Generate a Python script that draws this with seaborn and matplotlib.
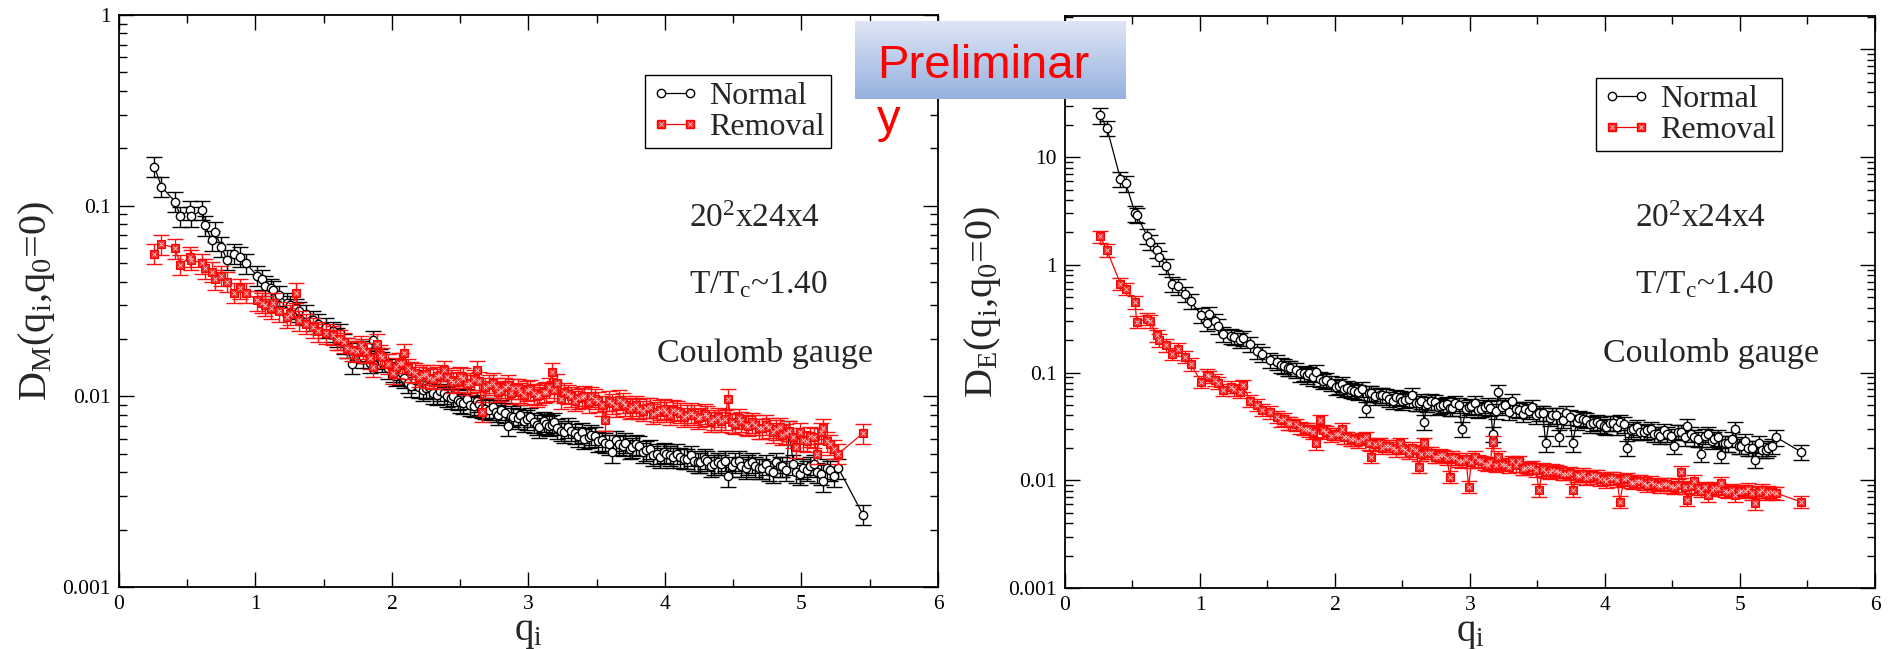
import numpy as np
import seaborn as sns
import matplotlib.pyplot as plt
from matplotlib.lines import Line2D
from matplotlib.legend_handler import HandlerTuple
from matplotlib.ticker import LogLocator, MultipleLocator, NullFormatter

# lattice momenta, first set
q_a = [0.26, 0.31, 0.41, 0.45, 0.52, 0.53, 0.61, 0.63, 0.68, 0.70,
       0.75, 0.79, 0.84, 0.89, 0.93, 1.01, 1.05, 1.07, 1.11, 1.13,
       1.17, 1.23, 1.25, 1.30, 1.32, 1.37, 1.42, 1.46, 1.52, 1.57,
       1.62, 1.67, 1.71, 1.77, 1.81, 1.86, 1.89, 1.93, 2.01, 2.05,
       2.09, 2.14, 2.20, 2.23, 2.27, 2.33, 2.38, 2.43, 2.48, 2.52,
       2.57, 2.62, 2.66, 2.71, 2.76, 2.80, 2.85, 2.89, 2.94, 2.99,
       3.04, 3.08, 3.13, 3.17, 3.21, 3.26, 3.31, 3.36, 3.41, 3.46,
       3.51, 3.56, 3.61, 3.66, 3.71, 3.76, 3.81, 3.86, 3.91, 3.96,
       4.01, 4.06, 4.11, 4.16, 4.21, 4.26, 4.31, 4.36, 4.41, 4.46,
       4.51, 4.56, 4.61, 4.66, 4.71, 4.76, 4.81, 4.86, 4.91, 4.96,
       5.01, 5.06, 5.11, 5.16, 5.21, 5.27, 5.45]

# second set of momenta (the dense region)
q_b = [1.60, 1.65, 1.74, 1.79, 1.84, 1.91, 1.97, 2.03, 2.07, 2.12,
       2.17, 2.25, 2.30, 2.35, 2.40, 2.45, 2.50, 2.55, 2.60, 2.64,
       2.68, 2.74, 2.78, 2.83, 2.87, 2.92, 2.97, 3.01, 3.06, 3.11,
       3.15, 3.19, 3.24, 3.29, 3.34, 3.39, 3.44, 3.49, 3.54, 3.59,
       3.64, 3.69, 3.74, 3.79, 3.84, 3.89, 3.94, 3.99, 4.04, 4.09,
       4.14, 4.19, 4.24, 4.29, 4.34, 4.39, 4.44, 4.49, 4.54, 4.59,
       4.64, 4.69, 4.74, 4.79, 4.84, 4.89, 4.94, 4.99, 5.04, 5.09,
       5.14, 5.19, 5.24]

# D_M, left panel
dm_normal_a = [0.160, 0.126, 0.105, 0.088, 0.095, 0.088, 0.095, 0.079, 0.066, 0.073,
               0.061, 0.052, 0.056, 0.054, 0.050, 0.043, 0.041, 0.038, 0.037, 0.036,
               0.034, 0.031, 0.030, 0.029, 0.028, 0.027, 0.025, 0.024, 0.023, 0.022,
               0.0215, 0.018, 0.0148, 0.0175, 0.017, 0.0197, 0.016, 0.0152, 0.0135, 0.013,
               0.0125, 0.0113, 0.0112, 0.0108, 0.0112, 0.0102, 0.0104, 0.0098, 0.0096, 0.0092,
               0.0090, 0.0094, 0.0087, 0.0085, 0.0083, 0.0085, 0.0070, 0.0078, 0.0080, 0.0076,
               0.0073, 0.0069, 0.0072, 0.0071, 0.0068, 0.0065, 0.0066, 0.0062, 0.0060, 0.0063,
               0.0058, 0.0057, 0.0051, 0.0056, 0.0057, 0.0054, 0.0055, 0.0052, 0.0049, 0.0048,
               0.0050, 0.0048, 0.0048, 0.0047, 0.0046, 0.0045, 0.0046, 0.0044, 0.0044, 0.0038,
               0.0045, 0.0043, 0.0044, 0.0043, 0.0042, 0.0041, 0.0045, 0.0043, 0.0066, 0.0040,
               0.0042, 0.0043, 0.0040, 0.0036, 0.0041, 0.0042, 0.0024]
dm_normal_b = [0.0205, 0.0190, 0.0170, 0.0160, 0.0150, 0.0158, 0.0140, 0.0128, 0.0132, 0.0118,
               0.0122, 0.0110, 0.0104, 0.0107, 0.0100, 0.0101, 0.0093, 0.0097, 0.0089, 0.0091,
               0.0086, 0.0088, 0.0080, 0.0082, 0.0079, 0.0077, 0.0074, 0.0078, 0.0071, 0.0074,
               0.0070, 0.0073, 0.0066, 0.0069, 0.0064, 0.0065, 0.0061, 0.0062, 0.0059, 0.0056,
               0.0059, 0.0055, 0.0053, 0.0056, 0.0051, 0.0053, 0.0050, 0.0051, 0.0049, 0.0050,
               0.0047, 0.0049, 0.0045, 0.0047, 0.0043, 0.0045, 0.0046, 0.0043, 0.0046, 0.0042,
               0.0045, 0.0042, 0.0044, 0.0040, 0.0043, 0.0041, 0.0044, 0.0039, 0.0041, 0.0044,
               0.0039, 0.0042, 0.0038]
dm_removal_a = [0.056, 0.063, 0.060, 0.049, 0.054, 0.052, 0.050, 0.047, 0.045, 0.041,
                0.043, 0.040, 0.035, 0.037, 0.035, 0.032, 0.031, 0.030, 0.029, 0.031,
                0.028, 0.026, 0.027, 0.035, 0.025, 0.024, 0.023, 0.022, 0.0214, 0.021,
                0.020, 0.018, 0.0175, 0.0185, 0.017, 0.0143, 0.0189, 0.016, 0.0132, 0.015,
                0.0168, 0.0135, 0.0127, 0.013, 0.0125, 0.0128, 0.0137, 0.0122, 0.012, 0.0125,
                0.0118, 0.0137, 0.0083, 0.0115, 0.0112, 0.0108, 0.0115, 0.011, 0.0105, 0.0108,
                0.0104, 0.0102, 0.0106, 0.0134, 0.0117, 0.0105, 0.0100, 0.0098, 0.0101, 0.0100,
                0.0094, 0.0075, 0.0092, 0.0096, 0.0090, 0.0088, 0.0086, 0.0087, 0.0081, 0.0085,
                0.0083, 0.0085, 0.0082, 0.0080, 0.0080, 0.0078, 0.0079, 0.0076, 0.0074, 0.0097,
                0.0072, 0.0074, 0.0070, 0.0071, 0.0068, 0.0069, 0.0067, 0.0063, 0.0066, 0.0054,
                0.0059, 0.0062, 0.0050, 0.0068, 0.0056, 0.0050, 0.0064]
dm_removal_b = [0.0200, 0.0192, 0.0172, 0.0178, 0.0158, 0.0165, 0.0148, 0.0142, 0.0150, 0.0140,
                0.0133, 0.0131, 0.0124, 0.0130, 0.0126, 0.0119, 0.0128, 0.0116, 0.0123, 0.0120,
                0.0112, 0.0118, 0.0106, 0.0112, 0.0104, 0.0110, 0.0102, 0.0109, 0.0100, 0.0105,
                0.0112, 0.0108, 0.0097, 0.0103, 0.0095, 0.0099, 0.0093, 0.0097, 0.0090, 0.0095,
                0.0089, 0.0093, 0.0086, 0.0090, 0.0084, 0.0088, 0.0083, 0.0086, 0.0080, 0.0084,
                0.0078, 0.0082, 0.0077, 0.0081, 0.0074, 0.0078, 0.0076, 0.0073, 0.0077, 0.0071,
                0.0073, 0.0068, 0.0071, 0.0065, 0.0069, 0.0064, 0.0061, 0.0065, 0.0058, 0.0061,
                0.0065, 0.0058, 0.0053]

# D_E, right panel
de_normal_a = [24.4, 18.8, 6.3, 5.7, 3.0, 2.9, 1.84, 1.62, 1.37, 1.17,
               0.98, 0.67, 0.63, 0.54, 0.46, 0.34, 0.29, 0.35, 0.30, 0.27,
               0.23, 0.22, 0.215, 0.20, 0.21, 0.186, 0.16, 0.15, 0.13, 0.125,
               0.115, 0.11, 0.105, 0.10, 0.098, 0.101, 0.088, 0.085, 0.074, 0.078,
               0.072, 0.068, 0.071, 0.046, 0.065, 0.062, 0.060, 0.055, 0.058, 0.056,
               0.062, 0.052, 0.035, 0.054, 0.048, 0.050, 0.047, 0.052, 0.030, 0.048,
               0.052, 0.046, 0.050, 0.027, 0.066, 0.050, 0.055, 0.045, 0.046, 0.048,
               0.042, 0.022, 0.040, 0.025, 0.042, 0.022, 0.038, 0.036, 0.034, 0.033,
               0.031, 0.034, 0.035, 0.020, 0.030, 0.028, 0.029, 0.027, 0.026, 0.027,
               0.021, 0.028, 0.032, 0.025, 0.0177, 0.027, 0.024, 0.0172, 0.022, 0.030,
               0.021, 0.020, 0.0154, 0.019, 0.020, 0.025, 0.0184]
de_normal_b = [0.118, 0.110, 0.098, 0.094, 0.090, 0.084, 0.080, 0.075, 0.070, 0.069,
               0.066, 0.064, 0.060, 0.062, 0.057, 0.059, 0.054, 0.057, 0.052, 0.055,
               0.051, 0.053, 0.049, 0.051, 0.047, 0.050, 0.046, 0.049, 0.045, 0.048,
               0.047, 0.044, 0.048, 0.043, 0.046, 0.041, 0.044, 0.040, 0.042, 0.038,
               0.040, 0.036, 0.039, 0.035, 0.037, 0.033, 0.035, 0.032, 0.034, 0.031,
               0.033, 0.029, 0.031, 0.028, 0.030, 0.027, 0.029, 0.026, 0.028, 0.025,
               0.027, 0.024, 0.026, 0.023, 0.025, 0.022, 0.024, 0.021, 0.023, 0.020,
               0.022, 0.019, 0.021]
de_removal_a = [1.84, 1.37, 0.67, 0.60, 0.45, 0.295, 0.315, 0.30, 0.222, 0.20,
                0.18, 0.15, 0.165, 0.14, 0.12, 0.082, 0.095, 0.092, 0.086, 0.080,
                0.069, 0.074, 0.070, 0.066, 0.076, 0.055, 0.050, 0.045, 0.043, 0.039,
                0.037, 0.034, 0.033, 0.030, 0.029, 0.022, 0.036, 0.028, 0.027, 0.030,
                0.025, 0.024, 0.0244, 0.025, 0.0165, 0.022, 0.021, 0.020, 0.022, 0.019,
                0.020, 0.0133, 0.022, 0.018, 0.0165, 0.017, 0.0108, 0.016, 0.015, 0.0087,
                0.0165, 0.015, 0.014, 0.0228, 0.0165, 0.014, 0.015, 0.015, 0.013, 0.0133,
                0.0081, 0.012, 0.0125, 0.012, 0.0115, 0.0081, 0.011, 0.0105, 0.0111, 0.0102,
                0.0098, 0.0105, 0.0063, 0.0104, 0.0095, 0.0098, 0.0090, 0.0093, 0.0088, 0.0092,
                0.0086, 0.012, 0.0066, 0.0098, 0.0080, 0.0073, 0.0085, 0.0094, 0.0078, 0.0073,
                0.0080, 0.0083, 0.0061, 0.0082, 0.0078, 0.0076, 0.0063]
de_removal_b = [0.036, 0.034, 0.031, 0.030, 0.028, 0.029, 0.026, 0.027, 0.025, 0.024,
                0.023, 0.022, 0.0215, 0.020, 0.021, 0.019, 0.020, 0.018, 0.019, 0.0175,
                0.018, 0.0165, 0.0172, 0.016, 0.0165, 0.0152, 0.0158, 0.0148, 0.0153, 0.0142,
                0.0147, 0.0138, 0.0143, 0.0133, 0.0138, 0.0128, 0.0132, 0.0124, 0.0127, 0.0119,
                0.0122, 0.0115, 0.0118, 0.0111, 0.0114, 0.0107, 0.0110, 0.0103, 0.0106, 0.0100,
                0.0102, 0.0097, 0.0099, 0.0094, 0.0096, 0.0091, 0.0093, 0.0088, 0.0090, 0.0086,
                0.0088, 0.0084, 0.0086, 0.0082, 0.0084, 0.0080, 0.0082, 0.0078, 0.0080, 0.0076,
                0.0078, 0.0075, 0.0077]

# relative statistical errors
rel_err = {"dm_normal": 0.12, "dm_removal": 0.12, "de_normal": 0.16, "de_removal": 0.13}

series_labels = ["Normal", "Removal"]
xticks = [0, 1, 2, 3, 4, 5, 6]
yticks_m = [0.001, 0.01, 0.1, 1]
yticklabels_m = ["0.001", "0.01", "0.1", "1"]
yticks_e = [0.001, 0.01, 0.1, 1, 10, 100]
yticklabels_e = ["0.001", "0.01", "0.1", "1", "10", ""]  # 100 sits under the banner

sns.set_theme(style="ticks")
plt.rcParams["font.family"] = "serif"
plt.rcParams["font.serif"] = ["Liberation Serif", "DejaVu Serif"]
plt.rcParams["mathtext.fontset"] = "custom"
plt.rcParams["mathtext.rm"] = "Liberation Serif"
plt.rcParams["mathtext.it"] = "Liberation Serif"
plt.rcParams["mathtext.bf"] = "Liberation Serif:bold"

W, H = 1890, 649
fig = plt.figure(figsize=(W / 100, H / 100), dpi=100)
ax1 = fig.add_axes([119 / W, 1 - 587 / H, 819 / W, 572 / H])
ax2 = fig.add_axes([1065 / W, 1 - 588 / H, 810 / W, 572 / H])


def merge(qa, ya, qb, yb):
    x = np.array(qa + qb)
    y = np.array(ya + yb)
    order = np.argsort(x, kind="stable")
    return x[order], y[order]


def draw(ax, normal, removal, en, er):
    xn, yn = normal
    xr, yr = removal
    ax.errorbar(xn, yn, yerr=en * yn, fmt="none", ecolor="black", elinewidth=1.0,
                capsize=6, capthick=1.0, zorder=2)
    sns.lineplot(x=xn, y=yn, ax=ax, color="black", lw=0.9, marker="o", markersize=6,
                 markerfacecolor="white", markeredgecolor="black", markeredgewidth=1.0,
                 estimator=None, sort=False, zorder=3)
    ax.errorbar(xr, yr, yerr=er * yr, fmt="none", ecolor="#ff1010", elinewidth=1.0,
                capsize=6, capthick=1.0, zorder=4)
    sns.lineplot(x=xr, y=yr, ax=ax, color="#ff0000", lw=0.9, marker="s", markersize=5.5,
                 markerfacecolor="#f02828", markeredgecolor="#ff0000", markeredgewidth=0.8,
                 estimator=None, sort=False, zorder=5)
    ax.plot(xr, yr, ls="none", marker="x", markersize=3, markeredgecolor="#ffd0d0",
            markeredgewidth=0.6, zorder=6)


draw(ax1, merge(q_a, dm_normal_a, q_b, dm_normal_b), merge(q_a, dm_removal_a, q_b, dm_removal_b),
     rel_err["dm_normal"], rel_err["dm_removal"])
draw(ax2, merge(q_a, de_normal_a, q_b, de_normal_b), merge(q_a, de_removal_a, q_b, de_removal_b),
     rel_err["de_normal"], rel_err["de_removal"])

for ax, yt, ytl, ylim in [(ax1, yticks_m, yticklabels_m, (0.001, 1)),
                          (ax2, yticks_e, yticklabels_e, (0.001, 204))]:
    ax.set_yscale("log")
    ax.set_xlim(0, 6)
    ax.set_ylim(*ylim)
    ax.set_xticks(xticks)
    ax.set_xticklabels([str(t) for t in xticks])
    ax.xaxis.set_minor_locator(MultipleLocator(0.5))
    ax.set_yticks(yt)
    ax.set_yticklabels(ytl)
    ax.yaxis.set_minor_locator(LogLocator(base=10, subs=np.arange(2, 10)))
    ax.yaxis.set_minor_formatter(NullFormatter())
    ax.tick_params(which="both", direction="in", top=True, right=True,
                   colors="black", labelsize=15.5, pad=6)
    ax.tick_params(which="major", length=11, width=1.0)
    ax.tick_params(which="minor", length=6, width=1.0)
    for s in ax.spines.values():
        s.set_linewidth(1.3)
        s.set_color("black")
    ax.set_xlabel(r"q$_\mathrm{i}$", fontsize=28, labelpad=0)
    ax.set_facecolor("white")

ax1.set_ylabel(r"D$_\mathrm{M}$(q$_\mathrm{i}$,q$_\mathrm{0}$=0)", fontsize=29)
ax2.set_ylabel(r"D$_\mathrm{E}$(q$_\mathrm{i}$,q$_\mathrm{0}$=0)", fontsize=29)
ax1.yaxis.set_label_coords(-0.076, 0.5)
ax2.yaxis.set_label_coords(-0.077, 0.5)

h_normal = Line2D([], [], color="black", lw=0.9, marker="o", markersize=6,
                  markerfacecolor="white", markeredgecolor="black")
h_rem = Line2D([], [], color="#ff0000", lw=0.9, marker="s", markersize=5.5,
               markerfacecolor="#f02828", markeredgecolor="#ff0000")
h_rem_x = Line2D([], [], ls="none", marker="x", markersize=3,
                 markeredgecolor="#ffd0d0", markeredgewidth=0.6)

for ax, lx, ly, dx in [(ax1, 645, 75, 0), (ax2, 1596, 78, 946)]:
    leg = ax.legend([h_normal, (h_rem, h_rem_x)], series_labels,
                    handler_map={tuple: HandlerTuple(ndivide=1, pad=0)},
                    loc="upper left", bbox_to_anchor=(lx / W, 1 - ly / H),
                    bbox_transform=fig.transFigure, fontsize=23, numpoints=2,
                    handlelength=1.5, handletextpad=0.3, labelspacing=0.05,
                    borderpad=0.2, borderaxespad=0, fancybox=False, framealpha=1)
    leg.get_frame().set_edgecolor("black")
    leg.get_frame().set_linewidth(1.0)
    fig.text((689 + dx) / W, 1 - 227 / H, r"20$^\mathrm{2}$x24x4", fontsize=24, va="baseline")
    fig.text((689 + dx) / W, 1 - 293 / H, r"T/T$_\mathrm{c}$~1.40", fontsize=24, va="baseline")
    fig.text((657 + dx) / W, 1 - 362 / H, "Coulomb gauge", fontsize=24.5, va="baseline")

# "Preliminary" banner
bax = fig.add_axes([855 / W, 1 - 99 / H, 271 / W, 78 / H], zorder=20)
top = np.array([222, 229, 244]) / 255
bot = np.array([150, 177, 224]) / 255
t = np.linspace(0, 1, 64)[:, None]
grad = (top[None, :] * (1 - t) + bot[None, :] * t)[:, None, :]
bax.imshow(grad, aspect="auto", extent=[0, 1, 0, 1])
bax.set_axis_off()
fig.text(877 / W, 1 - 78 / H, "Preliminar", fontsize=34, color="#ff0000",
         family=["Liberation Sans", "DejaVu Sans"], va="baseline", zorder=21)
fig.text(877 / W, 1 - 132 / H, "y", fontsize=34, color="#ff0000",
         family=["Liberation Sans", "DejaVu Sans"], va="baseline", zorder=21)

fig.savefig("out.png", dpi=100, facecolor="white")
